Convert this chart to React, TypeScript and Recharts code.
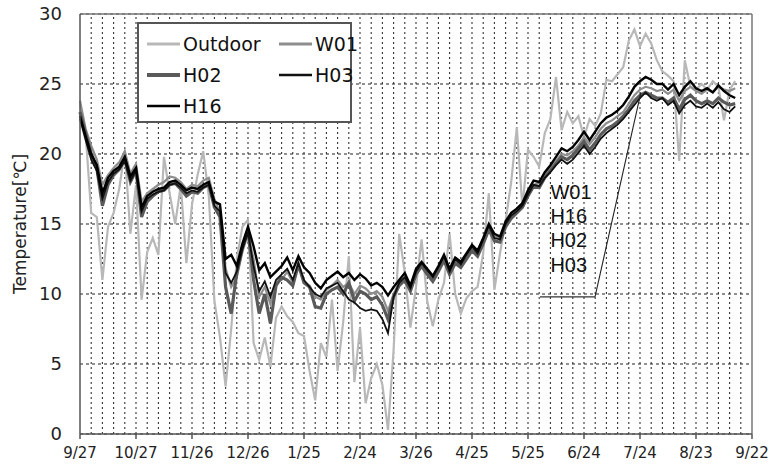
import React from 'react';
import {
  LineChart,
  Line,
  XAxis,
  YAxis,
  CartesianGrid,
  ReferenceLine,
  ReferenceDot,
  Label,
} from 'recharts';

// sample spacing in days, counted from 9/27
const STEP = 3;

const OUTDOOR = [
  23.5, 21.5, 15.8, 15.5, 11.0, 14.8, 15.8, 17.5, 20.2, 14.3,
  17.8, 9.6, 13.0, 14.0, 12.8, 19.8, 17.2, 15.0, 17.8, 12.2,
  16.4, 18.5, 20.2, 17.0, 9.5, 6.9, 3.4, 7.5, 12.5, 14.8,
  15.3, 6.5, 5.3, 6.9, 4.8, 8.3, 9.1, 8.4, 8.0, 7.2,
  7.0, 4.5, 2.4, 6.5, 5.5, 9.6, 4.5, 8.0, 12.7, 3.7,
  7.6, 2.2, 4.0, 5.0, 3.5, 0.3, 6.0, 14.3, 11.5, 7.6,
  10.5, 13.9, 9.5, 7.7, 9.6, 10.8, 14.3, 10.0, 8.6, 9.7,
  10.2, 10.5, 12.9, 17.2, 10.3, 12.9, 15.2, 18.0, 21.9, 16.2,
  20.3, 19.8, 19.1, 21.5, 22.5, 25.5, 21.7, 23.0, 22.2, 22.7,
  21.2, 22.5, 22.0, 22.9, 25.3, 25.2, 25.7, 26.2, 28.1, 28.9,
  27.7, 28.6, 27.9, 26.7, 25.9, 25.6, 25.2, 19.5, 26.7, 24.8,
  24.6, 25.0, 24.6, 25.2, 24.8, 22.4, 24.6, 25.2,
];

const W01 = [
  23.8, 21.8, 20.6, 19.6, 17.8, 18.5, 19.0, 19.4, 20.2, 18.6,
  19.3, 16.6, 17.2, 17.5, 17.8, 18.0, 18.4, 18.3, 18.0, 17.5,
  17.8, 17.7, 18.1, 18.3, 16.8, 15.8, 11.8, 10.5, 11.2, 13.0,
  14.3, 12.5, 9.8, 10.5, 9.3, 10.8, 11.0, 11.6, 10.8, 12.0,
  10.9, 10.6, 9.8, 9.6, 10.3, 10.6, 11.0, 10.5, 10.8, 10.0,
  10.6, 10.4, 10.0, 10.2, 9.8, 8.8, 10.0, 10.8, 11.2, 10.4,
  11.6, 12.1, 11.6, 11.0, 11.8, 12.6, 11.7, 12.4, 12.2, 12.8,
  13.3, 13.0, 13.8, 14.8, 14.1, 14.0, 15.0, 15.6, 16.0, 16.4,
  17.2, 17.8, 17.9, 18.5, 19.0, 19.5, 20.0, 19.9, 20.2, 20.6,
  21.2, 20.7, 21.2, 21.8, 22.2, 22.4, 22.7, 23.0, 23.6, 24.2,
  24.6, 24.8, 24.7, 24.5, 24.6, 24.3, 24.6, 23.8, 24.5, 24.8,
  24.5, 24.3, 24.6, 24.4, 24.8, 24.6, 24.5, 24.7,
];

const H02 = [
  23.0, 21.5, 20.0, 19.0, 16.3, 17.8, 18.5, 18.9, 19.6, 18.0,
  18.8, 15.5, 16.6, 17.0, 17.3, 17.4, 17.8, 17.9, 17.5, 17.0,
  17.3, 17.2, 17.6, 17.8, 16.2, 15.5, 10.5, 8.6, 11.5, 13.3,
  14.5, 11.0, 8.6, 10.0, 7.9, 10.6, 11.2, 11.0, 10.6, 12.1,
  10.8, 10.5, 9.1, 9.0, 10.0, 10.3, 10.5, 10.0, 10.8, 9.5,
  10.2, 10.0, 9.6, 9.8, 9.2, 8.2, 9.8, 10.6, 11.0, 10.2,
  11.4, 12.0, 11.4, 10.9, 11.6, 12.4, 11.4, 12.2, 11.9, 12.5,
  13.1, 12.7, 13.6, 14.6, 13.8, 13.7, 14.8, 15.4, 15.8, 16.2,
  17.0, 17.7, 17.6, 18.3, 18.8, 19.3, 19.8, 19.6, 19.9, 20.4,
  20.9, 20.3, 20.8, 21.4, 21.8, 22.0, 22.3, 22.7, 23.2, 23.8,
  24.2, 24.4, 24.2, 24.0, 24.0, 23.7, 24.0, 23.2, 23.9, 24.2,
  23.8, 23.6, 23.8, 23.6, 24.0, 23.7, 23.5, 23.6,
];

const H03 = [
  22.5, 21.0, 19.6, 18.8, 16.8, 18.0, 18.6, 18.9, 19.5, 18.1,
  18.8, 15.9, 16.8, 17.1, 17.3, 17.4, 17.8, 17.9, 17.6, 17.2,
  17.4, 17.3, 17.6, 17.8, 16.3, 15.9, 11.5, 10.8, 11.6, 13.2,
  14.4, 12.0, 10.2, 10.9, 9.8, 11.0, 11.4, 11.8, 11.0, 12.2,
  11.0, 10.5, 10.0, 9.8, 10.4, 10.6, 10.8, 10.2, 9.6, 9.4,
  9.0, 8.8, 8.9, 8.8, 8.2, 7.2, 9.8, 10.8, 11.2, 10.4,
  11.6, 12.2, 11.7, 11.2, 11.9, 12.7, 11.6, 12.5, 12.1, 12.8,
  13.4, 12.9, 13.9, 14.9, 14.0, 13.9, 15.0, 15.6, 15.9, 16.3,
  17.1, 17.8, 17.7, 18.3, 18.7, 19.2, 19.6, 19.3, 19.6, 20.1,
  20.6, 20.0, 20.5, 21.1, 21.5, 21.8, 22.1, 22.5, 23.0, 23.5,
  24.0, 24.4, 24.0, 23.8, 24.0, 23.5, 23.8, 22.9, 23.5, 23.8,
  23.4, 23.3, 23.6, 23.3, 23.7, 23.2, 23.0, 23.4,
];

const H16 = [
  22.7, 21.3, 20.0, 19.2, 17.2, 18.3, 18.8, 19.1, 19.8, 18.4,
  19.0, 16.2, 17.0, 17.3, 17.5, 17.6, 18.0, 18.1, 17.8, 17.4,
  17.6, 17.5, 17.8, 18.0, 16.6, 16.4, 12.5, 12.8, 12.0, 13.6,
  14.8, 13.4, 11.7, 12.2, 11.2, 11.6, 12.0, 12.6, 11.7, 12.7,
  11.9, 11.5, 10.8, 10.4, 11.0, 11.3, 11.6, 11.2, 11.5, 11.0,
  11.4, 11.1, 10.6, 10.8, 10.5, 9.9, 10.5, 11.0, 11.5, 10.6,
  11.8, 12.3, 11.8, 11.3, 12.0, 12.8, 11.8, 12.6, 12.3, 12.9,
  13.5, 13.1, 14.0, 15.0, 14.3, 14.1, 15.2, 15.8, 16.1, 16.5,
  17.4, 18.1, 18.0, 18.7, 19.2, 19.8, 20.4, 20.2, 20.5, 21.0,
  21.6, 21.0, 21.6, 22.2, 22.6, 22.8, 23.1, 23.5, 24.1, 24.8,
  25.2, 25.5, 25.3, 25.0, 25.0, 24.6, 25.0, 24.2, 24.8, 25.2,
  24.7, 24.5, 24.7, 24.4, 24.9, 24.5, 24.2, 24.0,
];

const TICK_DAYS = [0, 30, 60, 90, 120, 150, 180, 210, 240, 270, 300, 330, 360];
const TICK_LABELS = [
  '9/27', '10/27', '11/26', '12/26', '1/25', '2/24', '3/26',
  '4/25', '5/25', '6/24', '7/24', '8/23', '9/22',
];
const Y_TICKS = [0, 5, 10, 15, 20, 25, 30];
// dotted vertical grid every 6 days
const GRID_DAYS = Array.from({ length: 59 }, (_, i) => (i + 1) * 6);

// callout text on the right
const NOTE_LABELS = ['W01', 'H16', 'H02', 'H03'];
const NOTE_Y = [17.3, 15.6, 13.85, 12.05];
const NOTE_X = 252;

const data = OUTDOOR.map((v, i) => ({
  day: i * STEP,
  outdoor: v,
  w01: W01[i],
  h02: H02[i],
  h03: H03[i],
  h16: H16[i],
}));

const FONT = "'DejaVu Sans', 'Noto Sans CJK JP', sans-serif";

const SERIES = [
  { key: 'outdoor', name: 'Outdoor', color: '#b8b8b8', width: 2.2 },
  { key: 'w01', name: 'W01', color: '#8e8e8e', width: 2.2 },
  { key: 'h02', name: 'H02', color: '#5a5a5a', width: 3.2 },
  { key: 'h03', name: 'H03', color: '#111111', width: 1.8 },
  { key: 'h16', name: 'H16', color: '#000000', width: 2.4 },
];

// legend cells: [series index, left, top]
const LEGEND_LAYOUT: Array<[number, number, number]> = [
  [0, 8, 8],
  [1, 140, 8],
  [2, 8, 39],
  [3, 140, 39],
  [4, 8, 70],
];

const LegendBox = () => (
  <div
    style={{
      position: 'absolute',
      left: 137,
      top: 22,
      width: 215,
      height: 101,
      boxSizing: 'border-box',
      border: '2px solid #555',
      background: '#fff',
      fontFamily: FONT,
      fontSize: 19,
      color: '#111',
    }}
  >
    {LEGEND_LAYOUT.map(([si, left, top]) => {
      const s = SERIES[si];
      const thick = s.key === 'h02' ? 4 : s.key === 'outdoor' || s.key === 'w01' ? 3 : 2.5;
      return (
        <div
          key={s.key}
          style={{ position: 'absolute', left, top, height: 24, display: 'flex', alignItems: 'center' }}
        >
          <svg width={34} height={10}>
            <line x1={0} y1={5} x2={33} y2={5} stroke={s.color} strokeWidth={thick} />
          </svg>
          <span style={{ marginLeft: 2, lineHeight: '24px' }}>{s.name}</span>
        </div>
      );
    })}
  </div>
);

export default function App() {
  return (
    <div
      style={{
        position: 'absolute',
        left: 0,
        top: 0,
        width: 773,
        height: 470,
        background: '#fff',
      }}
    >
      <LineChart
        width={773}
        height={470}
        data={data}
        margin={{ top: 14, right: 21, left: 0, bottom: 0 }}
      >
        <CartesianGrid vertical={false} stroke="#222" strokeDasharray="3 3" />
        {GRID_DAYS.map((d) => (
          <ReferenceLine key={`g${d}`} x={d} stroke="#333" strokeDasharray="2 3" strokeWidth={1.1} />
        ))}
        <XAxis
          type="number"
          dataKey="day"
          domain={[0, 360]}
          ticks={TICK_DAYS}
          tickFormatter={(v: number) => TICK_LABELS[TICK_DAYS.indexOf(v)]}
          height={36}
          tickSize={5}
          tickMargin={8}
          stroke="#555"
          strokeWidth={1.5}
          tick={{ fill: '#222', fontSize: 15, fontFamily: FONT }}
          interval={0}
        />
        <YAxis
          type="number"
          domain={[0, 30]}
          ticks={Y_TICKS}
          width={80}
          tickLine={false}
          tickSize={0}
          tickMargin={18}
          stroke="#555"
          strokeWidth={1.5}
          tick={{ fill: '#222', fontSize: 18, fontFamily: FONT }}
          interval={0}
        >
          <Label
            content={({ viewBox }: any) => {
              const cx = viewBox.x + 20;
              const cy = viewBox.y + viewBox.height / 2;
              return (
                <text
                  x={cx}
                  y={cy}
                  transform={`rotate(-90, ${cx}, ${cy})`}
                  textAnchor="middle"
                  dominantBaseline="central"
                  fontSize={17}
                  fontFamily={FONT}
                  fill="#222"
                >
                  Temperature[℃]
                </text>
              );
            }}
          />
        </YAxis>
        <ReferenceLine y={30} stroke="#777" strokeWidth={1.5} />
        <ReferenceLine x={360} stroke="#777" strokeWidth={1.5} />
        {SERIES.map((s) => (
          <Line
            key={s.key}
            type="linear"
            dataKey={s.key}
            name={s.name}
            stroke={s.color}
            strokeWidth={s.width}
            dot={false}
            isAnimationActive={false}
          />
        ))}
        <ReferenceLine
          segment={[
            { x: 246.4, y: 9.8 },
            { x: 275.9, y: 9.8 },
          ]}
          stroke="#333"
          strokeWidth={1.3}
        />
        <ReferenceLine
          segment={[
            { x: 275.9, y: 9.8 },
            { x: 300.5, y: 24.4 },
          ]}
          stroke="#222"
          strokeWidth={1.1}
        />
        {NOTE_LABELS.map((t, i) => (
          <ReferenceDot
            key={t}
            x={NOTE_X}
            y={NOTE_Y[i]}
            r={0}
            fill="none"
            stroke="none"
            label={{
              value: t,
              position: 'right',
              offset: 0,
              fill: '#111',
              fontSize: 20,
              fontFamily: "'Liberation Sans', Arial, sans-serif",
            }}
          />
        ))}
      </LineChart>
      <LegendBox />
    </div>
  );
}
